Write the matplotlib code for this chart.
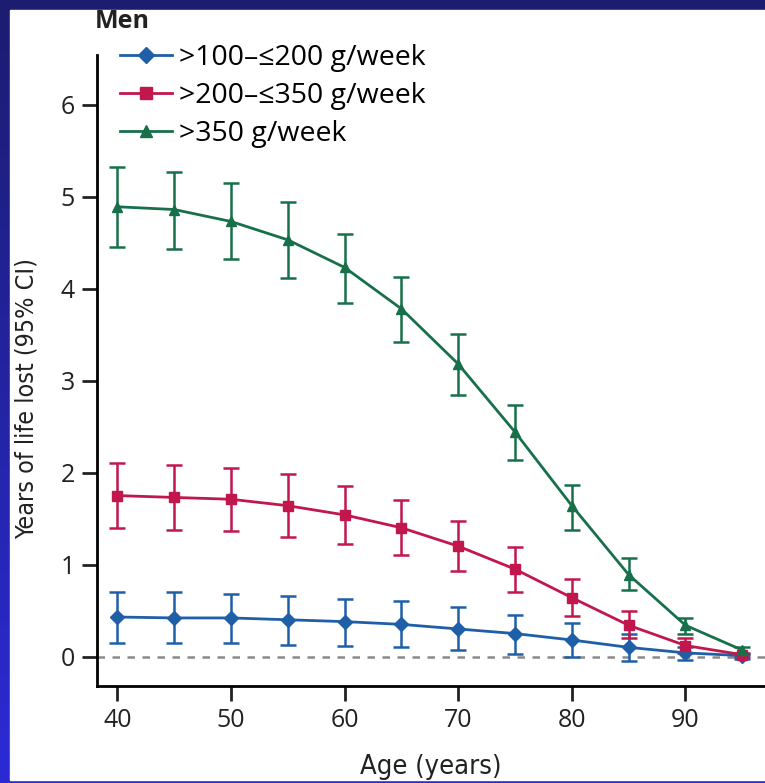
import numpy as np
import matplotlib.pyplot as plt
from matplotlib.patches import Rectangle
from matplotlib.lines import Line2D
from matplotlib.colors import LinearSegmentedColormap

# data
age = [40, 45, 50, 55, 60, 65, 70, 75, 80, 85, 90, 95]

low_mid = [0.43, 0.42, 0.42, 0.40, 0.38, 0.35, 0.30, 0.25, 0.18, 0.10, 0.04, 0.01]
low_lo = [0.15, 0.15, 0.15, 0.13, 0.12, 0.10, 0.07, 0.03, 0.00, -0.05, -0.04, -0.03]
low_hi = [0.70, 0.70, 0.68, 0.66, 0.63, 0.60, 0.54, 0.45, 0.37, 0.24, 0.10, 0.03]

mid_mid = [1.75, 1.73, 1.71, 1.64, 1.54, 1.40, 1.20, 0.95, 0.64, 0.34, 0.12, 0.02]
mid_lo = [1.40, 1.38, 1.36, 1.30, 1.22, 1.10, 0.93, 0.70, 0.44, 0.20, 0.04, 0.00]
mid_hi = [2.10, 2.08, 2.05, 1.98, 1.85, 1.70, 1.47, 1.19, 0.84, 0.50, 0.20, 0.04]

high_mid = [4.89, 4.86, 4.73, 4.53, 4.23, 3.78, 3.18, 2.44, 1.64, 0.89, 0.34, 0.07]
high_lo = [4.45, 4.43, 4.32, 4.12, 3.84, 3.42, 2.84, 2.14, 1.38, 0.72, 0.25, 0.03]
high_hi = [5.32, 5.27, 5.15, 4.94, 4.59, 4.13, 3.51, 2.73, 1.87, 1.07, 0.42, 0.10]

labels = ['>100\u2013\u2264200 g/week', '>200\u2013\u2264350 g/week', '>350 g/week']
colors = ['#1f5fa8', '#c2174d', '#17704a']
markers = ['D', 's', '^']

fig = plt.figure(figsize=(7.65, 7.83), dpi=100)
fig.patch.set_facecolor('#1b1b72')

# slide-like background: blue gradient behind, white panel on top
bg = fig.add_axes([0, 0, 1, 1], zorder=-10)
grad = np.linspace(0, 1, 256).reshape(-1, 1)
bg.imshow(grad, extent=[0, 1, 0, 1], aspect='auto', origin='upper',
          cmap=LinearSegmentedColormap.from_list('slide', ['#1c1c70', '#2b2bd6']))
bg.add_patch(Rectangle((10 / 765, 3 / 783), 1, (783 - 13) / 783, color='white', transform=bg.transAxes))
bg.set_xlim(0, 1)
bg.set_ylim(0, 1)
bg.axis('off')

ax = fig.add_axes([97 / 765, 97 / 783, 668 / 765, 631 / 783])
ax.set_facecolor('none')

series = [(low_mid, low_lo, low_hi), (mid_mid, mid_lo, mid_hi), (high_mid, high_lo, high_hi)]
handles = []
for (m, lo, hi), lab, c, mk in zip(series, labels, colors, markers):
    m = np.array(m)
    err = [m - np.array(lo), np.array(hi) - m]
    ax.errorbar(age, m, yerr=err, color=c, marker=mk, markersize=7, lw=2, capsize=6,
                elinewidth=1.8, capthick=1.8)
    handles.append(Line2D([], [], color=c, marker=mk, markersize=8, lw=2, label=lab))

ax.axhline(0, color='#8a8a8a', ls=(0, (3, 3)), lw=1.8, zorder=0)

ax.set_xlim(38.2, 97)
ax.set_ylim(-0.32, 6.54)
ax.set_xticks([40, 50, 60, 70, 80, 90])
ax.set_yticks([0, 1, 2, 3, 4, 5, 6])
ax.spines['top'].set_visible(False)
ax.spines['right'].set_visible(False)
ax.spines['left'].set_linewidth(2)
ax.spines['bottom'].set_linewidth(2)
ax.tick_params(length=11, width=2, labelsize=18, colors='#222222', pad=5)
for t in ax.get_xticklabels() + ax.get_yticklabels():
    t.set_fontfamily(['Open Sans', 'DejaVu Sans'])

ax.set_xlabel('Age (years)', fontsize=19.5, family='DejaVu Sans', fontstretch='condensed',
              color='#222222', labelpad=15)
ax.set_ylabel('Years of life lost (95% CI)', fontsize=18, family='DejaVu Sans', fontstretch='condensed',
              color='#222222')
ax.yaxis.set_label_coords(-0.088, 0.456)

ax.legend(handles=handles, loc='upper left', bbox_to_anchor=(0.034, 1.017), frameon=False,
          borderaxespad=0, borderpad=0,
          handlelength=1.85, labelspacing=0.34, handletextpad=0.22,
          prop={'family': ['Open Sans', 'DejaVu Sans'], 'size': 20.5})
fig.text(95 / 765, 1 - 22 / 783, 'Men', fontsize=18, fontweight='bold', va='center',
         family=['Open Sans', 'DejaVu Sans'], color='#222222')

fig.savefig('out.png', dpi=100, facecolor=fig.get_facecolor())
